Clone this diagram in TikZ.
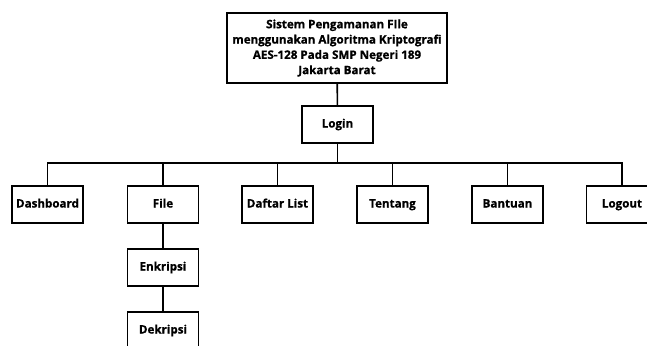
\documentclass[tikz,border=0pt]{standalone}
\usepackage{fontspec}
\setmainfont{Open Sans}[BoldFeatures={FakeBold=0.8}]
\begin{document}
\begin{tikzpicture}[x=1pt,y=-1pt,
  frame/.style={draw,line width=1.6pt,inner sep=0pt,
    font=\fontsize{11.6}{15.3}\selectfont\bfseries,align=center},
  box/.style={frame,minimum width=71pt,minimum height=37pt,text height=8.5pt,text depth=2.5pt},
  conn/.style={line width=1.6pt}]
\clip (0,0) rectangle (647,345);
\fill[white] (0,0) rectangle (647,345);
\node[frame,minimum width=220pt,minimum height=70pt] (title) at (337,48)
  {Sistem Pengamanan FIle\\menggunakan Algoritma Kriptografi\\AES-128 Pada SMP Negeri 189\\Jakarta Barat};
\node[box] (login) at (337.5,124.5) {Login};
\node[box] (dash) at (47.5,204.5) {Dashboard};
\node[box] (file) at (163,204.5) {File};
\node[box] (daftar) at (277.5,204.5) {Daftar List};
\node[box] (tentang) at (392.5,204.5) {Tentang};
\node[box] (bantuan) at (507.5,204.5) {Bantuan};
\node[box] (logout) at (622,204.5) {Logout};
\node[box] (enk) at (163,267.5) {Enkripsi};
\node[box] (dek) at (163,330.5) {Dekripsi};
\coordinate (bus) at (337.5,163);
\draw[conn] (title) -- (login);
\draw[conn] (login) -- (bus);
\draw[conn] (dash.north) |- (bus) -| (logout.north);
\foreach \n in {file,daftar,tentang,bantuan} \draw[conn] (\n.north) -- (\n.north |- bus);
\draw[conn] (file) -- (enk);
\draw[conn] (enk) -- (dek);
\end{tikzpicture}
\end{document}
